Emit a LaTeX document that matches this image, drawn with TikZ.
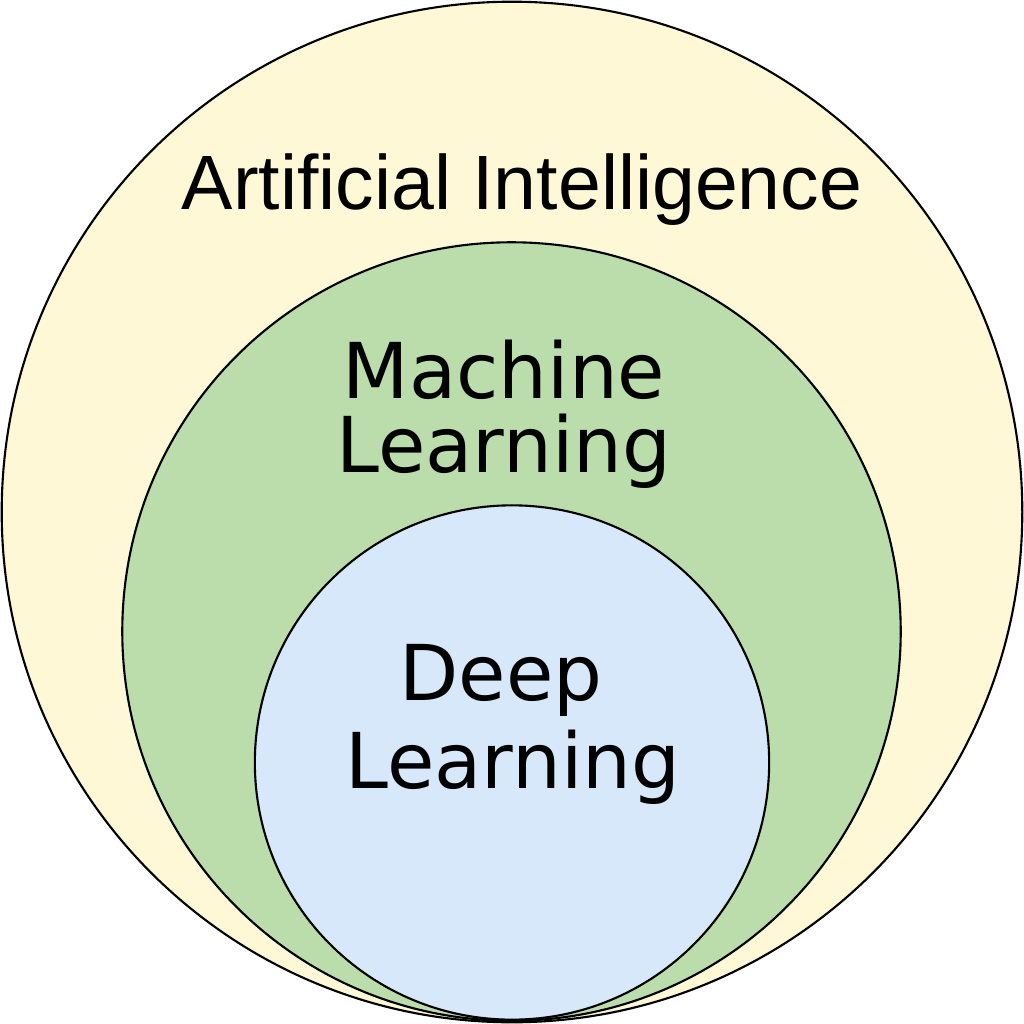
\documentclass[tikz,border=0pt]{standalone}
\usepackage{fontspec}
\setmainfont{DejaVu Sans}
\newfontfamily\aifont{Liberation Sans}
\definecolor{aiYellow}{RGB}{255,248,214}
\definecolor{mlGreen}{RGB}{187,220,171}
\definecolor{dlBlue}{RGB}{214,232,250}

\begin{document}
\begin{tikzpicture}[x=0.01cm,y=-0.01cm,
    ring/.style={circle,draw=black,line width=0.6pt,inner sep=0pt},
    label/.style={inner sep=0pt,anchor=base,align=center}]
    \useasboundingbox (0,0) rectangle (1024,1024);
    % Nested rings
    \node[ring,fill=aiYellow,minimum size=10.2cm] (ai) at (512,512) {};
    \node[ring,fill=mlGreen,minimum size=7.78cm] (ml) at (511.5,631.5) {};
    \node[ring,fill=dlBlue,minimum size=5.14cm] (dl) at (512,762.5) {};
    % Labels (base = baseline of the last line)
    \node[label,font=\aifont\fontsize{21.9pt}{26pt}\selectfont] (aiText) at (522,209) {Artificial Intelligence};
    \node[label,font=\fontsize{21.9pt}{20.8pt}\selectfont] (mlText) at (504,472) {Machine\\Learning};
    \node[label,font=\fontsize{21.9pt}{25pt}\selectfont] (dlText) at (513,788) {Deep\kern0.31em\\Learning};
\end{tikzpicture}
\end{document}
